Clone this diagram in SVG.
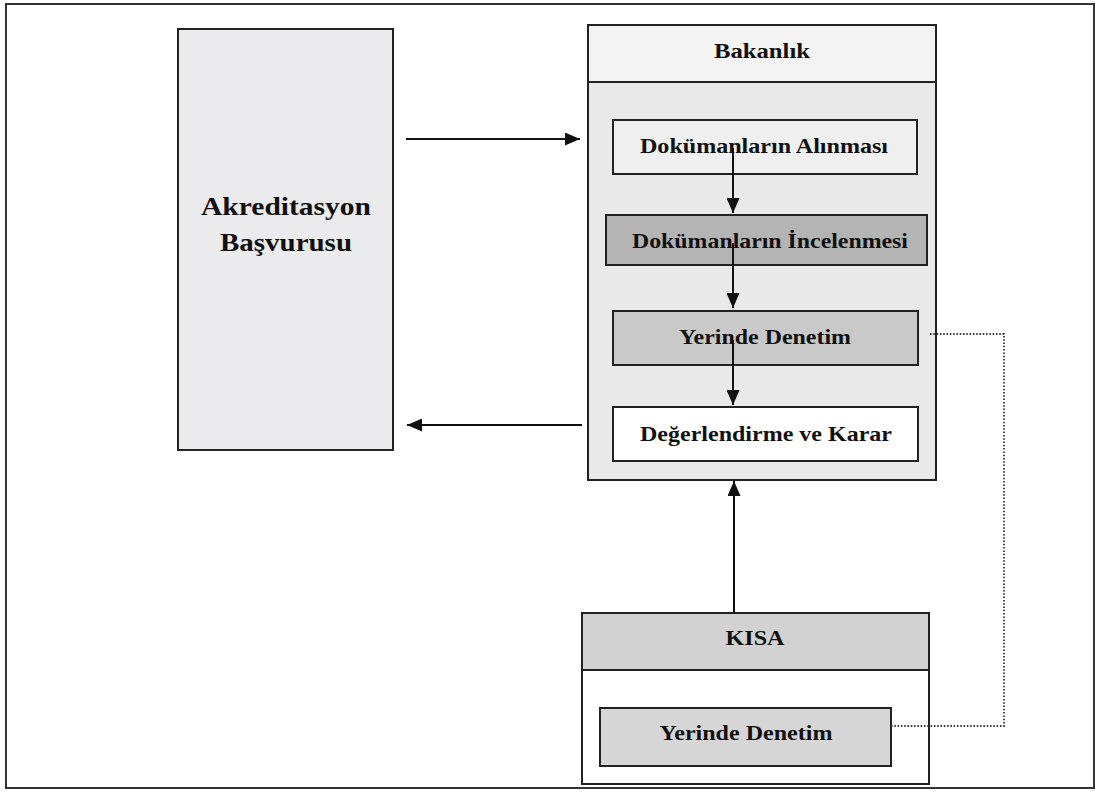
<svg xmlns="http://www.w3.org/2000/svg" width="1099" height="795" viewBox="0 0 1099 795">
<style>
.box{stroke:#222;stroke-width:2}
.t{font-family:"Liberation Serif","Times New Roman",serif;font-weight:bold;fill:#111;text-anchor:middle;font-size:22px}
.conn{stroke:#111;stroke-width:2;fill:none}
.dot{stroke:#333;stroke-width:1.8;fill:none;stroke-dasharray:1.5 1.8}
</style>
<defs>
<marker id="ah" markerWidth="15" markerHeight="13" refX="15" refY="6.5" orient="auto" markerUnits="userSpaceOnUse" viewBox="0 0 15 13">
<path d="M0,0 L15,6.5 L0,13 Z" fill="#111"/>
</marker>
</defs>
<rect x="0" y="0" width="1099" height="795" fill="#fff"/>
<rect id="frame" x="6" y="4" width="1088" height="784" fill="none" stroke="#333" stroke-width="2"/>

<g id="akreditasyon">
<rect class="box" x="178" y="29" width="215" height="421" fill="#ebebed"/>
<text class="t" x="286" y="215" style="font-size:26px" textLength="170" lengthAdjust="spacingAndGlyphs">Akreditasyon</text>
<text class="t" x="286" y="251" style="font-size:26px" textLength="132" lengthAdjust="spacingAndGlyphs">Başvurusu</text>
</g>

<g id="bakanlik">
<rect class="box" x="588" y="25" width="348" height="455" fill="#e9e9e9"/>
<rect class="box" x="588" y="25" width="348" height="57" fill="#f3f3f3"/>
<text class="t" x="762" y="58" textLength="96" lengthAdjust="spacingAndGlyphs">Bakanlık</text>
</g>
<g id="dok-alinmasi">
<rect class="box" x="613" y="120" width="304" height="54" fill="#efefef"/>
<text class="t" x="764" y="153" textLength="248" lengthAdjust="spacingAndGlyphs">Dokümanların Alınması</text>
</g>
<g id="dok-incelenmesi">
<rect class="box" x="606" y="215" width="321" height="50" fill="#b4b4b4"/>
<text class="t" x="770" y="248" textLength="276" lengthAdjust="spacingAndGlyphs">Dokümanların İncelenmesi</text>
</g>
<g id="yerinde-denetim">
<rect class="box" x="613" y="311" width="305" height="54" fill="#c9c9c9"/>
<text class="t" x="765" y="344" textLength="172" lengthAdjust="spacingAndGlyphs">Yerinde Denetim</text>
</g>
<g id="degerlendirme">
<rect class="box" x="613" y="407" width="305" height="54" fill="#ffffff"/>
<text class="t" x="766" y="441" textLength="252" lengthAdjust="spacingAndGlyphs">Değerlendirme ve Karar</text>
</g>

<g id="kisa">
<rect class="box" x="582" y="613" width="347" height="171" fill="#ffffff"/>
<rect class="box" x="582" y="613" width="347" height="57" fill="#d2d2d2"/>
<text class="t" x="755" y="645" textLength="59" lengthAdjust="spacingAndGlyphs">KISA</text>
</g>
<g id="kisa-yerinde">
<rect class="box" x="600" y="708" width="291" height="58" fill="#d6d6d6"/>
<text class="t" x="746" y="740" textLength="173" lengthAdjust="spacingAndGlyphs">Yerinde Denetim</text>
</g>

<g id="connectors">
<line class="conn" x1="406" y1="139" x2="580" y2="139" marker-end="url(#ah)"/>
<line class="conn" x1="582" y1="425" x2="407" y2="425" marker-end="url(#ah)"/>
<line class="conn" x1="733" y1="148" x2="733" y2="213" marker-end="url(#ah)"/>
<line class="conn" x1="733" y1="243" x2="733" y2="308" marker-end="url(#ah)"/>
<line class="conn" x1="733" y1="340" x2="733" y2="405" marker-end="url(#ah)"/>
<line class="conn" x1="734" y1="613" x2="734" y2="481" marker-end="url(#ah)"/>
<polyline class="dot" points="930,334 1004,334 1004,726 891,726"/>
</g>
</svg>
